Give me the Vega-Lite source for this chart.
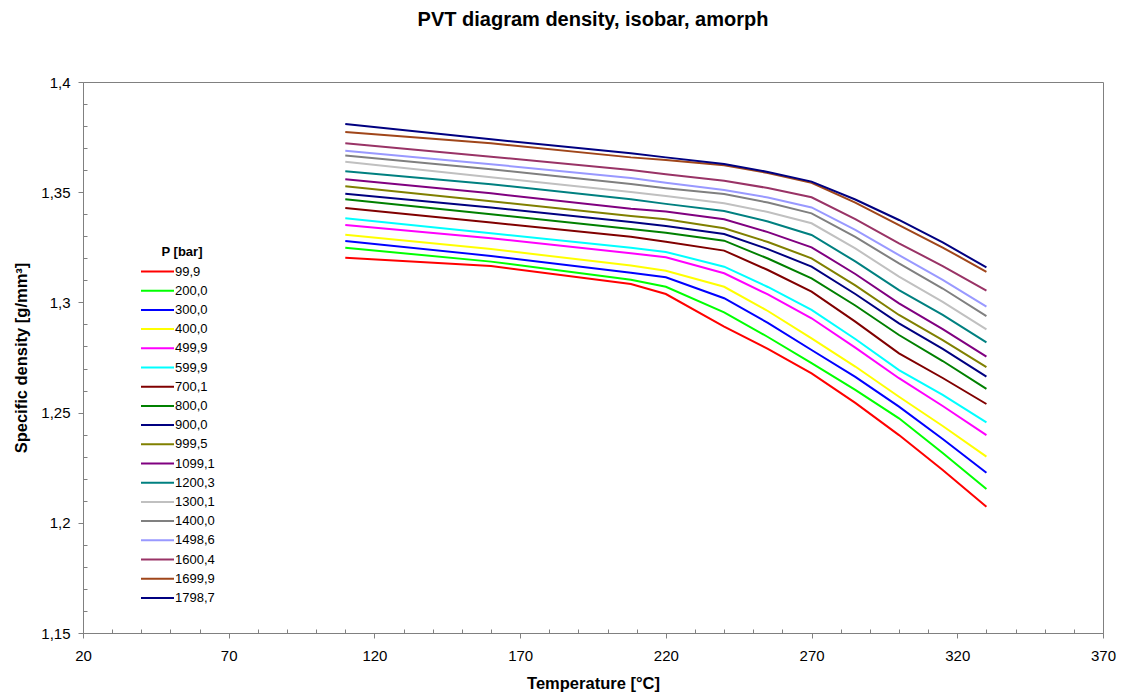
{
  "$schema": "https://vega.github.io/schema/vega-lite/v6.json",
  "width": 1020,
  "height": 551,
  "autosize": {"type": "none"},
  "padding": {"left": 83, "top": 82, "right": 19, "bottom": 63},
  "background": "white",
  "config": {
    "font": "Liberation Sans",
    "view": {"stroke": "#808080", "strokeWidth": 1}
  },
  "title": {
    "text": "PVT diagram density, isobar, amorph",
    "fontSize": 20,
    "fontWeight": "bold",
    "font": "Liberation Sans",
    "color": "#000000",
    "anchor": "middle",
    "offset": 45
  },
  "data": {
    "values": [
      {"P": "99,9", "T": 110, "d": 1.3203}, {"P": "99,9", "T": 160, "d": 1.3165}, {"P": "99,9", "T": 208, "d": 1.3083}, {"P": "99,9", "T": 220, "d": 1.3038}, {"P": "99,9", "T": 240, "d": 1.2890}, {"P": "99,9", "T": 255, "d": 1.2789}, {"P": "99,9", "T": 270, "d": 1.2678}, {"P": "99,9", "T": 285, "d": 1.2544}, {"P": "99,9", "T": 300, "d": 1.2398}, {"P": "99,9", "T": 315, "d": 1.2240}, {"P": "99,9", "T": 330, "d": 1.2073},
      {"P": "200,0", "T": 110, "d": 1.3248}, {"P": "200,0", "T": 160, "d": 1.3185}, {"P": "200,0", "T": 208, "d": 1.3103}, {"P": "200,0", "T": 220, "d": 1.3071}, {"P": "200,0", "T": 240, "d": 1.2955}, {"P": "200,0", "T": 255, "d": 1.2843}, {"P": "200,0", "T": 270, "d": 1.2724}, {"P": "200,0", "T": 285, "d": 1.2603}, {"P": "200,0", "T": 300, "d": 1.2474}, {"P": "200,0", "T": 315, "d": 1.2317}, {"P": "200,0", "T": 330, "d": 1.2153},
      {"P": "300,0", "T": 110, "d": 1.3279}, {"P": "300,0", "T": 160, "d": 1.3211}, {"P": "300,0", "T": 208, "d": 1.3135}, {"P": "300,0", "T": 220, "d": 1.3114}, {"P": "300,0", "T": 240, "d": 1.3019}, {"P": "300,0", "T": 255, "d": 1.2907}, {"P": "300,0", "T": 270, "d": 1.2784}, {"P": "300,0", "T": 285, "d": 1.2662}, {"P": "300,0", "T": 300, "d": 1.2527}, {"P": "300,0", "T": 315, "d": 1.2380}, {"P": "300,0", "T": 330, "d": 1.2227},
      {"P": "400,0", "T": 110, "d": 1.3307}, {"P": "400,0", "T": 160, "d": 1.3242}, {"P": "400,0", "T": 208, "d": 1.3167}, {"P": "400,0", "T": 220, "d": 1.3144}, {"P": "400,0", "T": 240, "d": 1.3071}, {"P": "400,0", "T": 255, "d": 1.2961}, {"P": "400,0", "T": 270, "d": 1.2837}, {"P": "400,0", "T": 285, "d": 1.2709}, {"P": "400,0", "T": 300, "d": 1.2572}, {"P": "400,0", "T": 315, "d": 1.2439}, {"P": "400,0", "T": 330, "d": 1.2300},
      {"P": "499,9", "T": 110, "d": 1.3351}, {"P": "499,9", "T": 160, "d": 1.3291}, {"P": "499,9", "T": 208, "d": 1.3223}, {"P": "499,9", "T": 220, "d": 1.3205}, {"P": "499,9", "T": 240, "d": 1.3132}, {"P": "499,9", "T": 255, "d": 1.3036}, {"P": "499,9", "T": 270, "d": 1.2928}, {"P": "499,9", "T": 285, "d": 1.2795}, {"P": "499,9", "T": 300, "d": 1.2656}, {"P": "499,9", "T": 315, "d": 1.2530}, {"P": "499,9", "T": 330, "d": 1.2398},
      {"P": "599,9", "T": 110, "d": 1.3382}, {"P": "599,9", "T": 160, "d": 1.3314}, {"P": "599,9", "T": 208, "d": 1.3248}, {"P": "599,9", "T": 220, "d": 1.3229}, {"P": "599,9", "T": 240, "d": 1.3162}, {"P": "599,9", "T": 255, "d": 1.3070}, {"P": "599,9", "T": 270, "d": 1.2966}, {"P": "599,9", "T": 285, "d": 1.2834}, {"P": "599,9", "T": 300, "d": 1.2693}, {"P": "599,9", "T": 315, "d": 1.2580}, {"P": "599,9", "T": 330, "d": 1.2456},
      {"P": "700,1", "T": 110, "d": 1.3428}, {"P": "700,1", "T": 160, "d": 1.3362}, {"P": "700,1", "T": 208, "d": 1.3298}, {"P": "700,1", "T": 220, "d": 1.3275}, {"P": "700,1", "T": 240, "d": 1.3235}, {"P": "700,1", "T": 255, "d": 1.3147}, {"P": "700,1", "T": 270, "d": 1.3049}, {"P": "700,1", "T": 285, "d": 1.2913}, {"P": "700,1", "T": 300, "d": 1.2769}, {"P": "700,1", "T": 315, "d": 1.2657}, {"P": "700,1", "T": 330, "d": 1.2539},
      {"P": "800,0", "T": 110, "d": 1.3468}, {"P": "800,0", "T": 160, "d": 1.3400}, {"P": "800,0", "T": 208, "d": 1.3333}, {"P": "800,0", "T": 220, "d": 1.3316}, {"P": "800,0", "T": 240, "d": 1.3280}, {"P": "800,0", "T": 255, "d": 1.3199}, {"P": "800,0", "T": 270, "d": 1.3109}, {"P": "800,0", "T": 285, "d": 1.2986}, {"P": "800,0", "T": 300, "d": 1.2852}, {"P": "800,0", "T": 315, "d": 1.2734}, {"P": "800,0", "T": 330, "d": 1.2608},
      {"P": "900,0", "T": 110, "d": 1.3493}, {"P": "900,0", "T": 160, "d": 1.3431}, {"P": "900,0", "T": 208, "d": 1.3365}, {"P": "900,0", "T": 220, "d": 1.3347}, {"P": "900,0", "T": 240, "d": 1.3310}, {"P": "900,0", "T": 255, "d": 1.3242}, {"P": "900,0", "T": 270, "d": 1.3162}, {"P": "900,0", "T": 285, "d": 1.3038}, {"P": "900,0", "T": 300, "d": 1.2905}, {"P": "900,0", "T": 315, "d": 1.2789}, {"P": "900,0", "T": 330, "d": 1.2663},
      {"P": "999,5", "T": 110, "d": 1.3527}, {"P": "999,5", "T": 160, "d": 1.3459}, {"P": "999,5", "T": 208, "d": 1.3392}, {"P": "999,5", "T": 220, "d": 1.3377}, {"P": "999,5", "T": 240, "d": 1.3336}, {"P": "999,5", "T": 255, "d": 1.3274}, {"P": "999,5", "T": 270, "d": 1.3200}, {"P": "999,5", "T": 285, "d": 1.3077}, {"P": "999,5", "T": 300, "d": 1.2943}, {"P": "999,5", "T": 315, "d": 1.2829}, {"P": "999,5", "T": 330, "d": 1.2706},
      {"P": "1099,1", "T": 110, "d": 1.3559}, {"P": "1099,1", "T": 160, "d": 1.3495}, {"P": "1099,1", "T": 208, "d": 1.3425}, {"P": "1099,1", "T": 220, "d": 1.3412}, {"P": "1099,1", "T": 240, "d": 1.3377}, {"P": "1099,1", "T": 255, "d": 1.3319}, {"P": "1099,1", "T": 270, "d": 1.3250}, {"P": "1099,1", "T": 285, "d": 1.3129}, {"P": "1099,1", "T": 300, "d": 1.2996}, {"P": "1099,1", "T": 315, "d": 1.2879}, {"P": "1099,1", "T": 330, "d": 1.2754},
      {"P": "1200,3", "T": 110, "d": 1.3595}, {"P": "1200,3", "T": 160, "d": 1.3536}, {"P": "1200,3", "T": 208, "d": 1.3468}, {"P": "1200,3", "T": 220, "d": 1.3447}, {"P": "1200,3", "T": 240, "d": 1.3415}, {"P": "1200,3", "T": 255, "d": 1.3367}, {"P": "1200,3", "T": 270, "d": 1.3306}, {"P": "1200,3", "T": 285, "d": 1.3186}, {"P": "1200,3", "T": 300, "d": 1.3056}, {"P": "1200,3", "T": 315, "d": 1.2943}, {"P": "1200,3", "T": 330, "d": 1.2819},
      {"P": "1300,1", "T": 110, "d": 1.3638}, {"P": "1300,1", "T": 160, "d": 1.3568}, {"P": "1300,1", "T": 208, "d": 1.3501}, {"P": "1300,1", "T": 220, "d": 1.3483}, {"P": "1300,1", "T": 240, "d": 1.3450}, {"P": "1300,1", "T": 255, "d": 1.3410}, {"P": "1300,1", "T": 270, "d": 1.3359}, {"P": "1300,1", "T": 285, "d": 1.3245}, {"P": "1300,1", "T": 300, "d": 1.3117}, {"P": "1300,1", "T": 315, "d": 1.3002}, {"P": "1300,1", "T": 330, "d": 1.2878},
      {"P": "1400,0", "T": 110, "d": 1.3667}, {"P": "1400,0", "T": 160, "d": 1.3604}, {"P": "1400,0", "T": 208, "d": 1.3537}, {"P": "1400,0", "T": 220, "d": 1.3518}, {"P": "1400,0", "T": 240, "d": 1.3492}, {"P": "1400,0", "T": 255, "d": 1.3453}, {"P": "1400,0", "T": 270, "d": 1.3404}, {"P": "1400,0", "T": 285, "d": 1.3297}, {"P": "1400,0", "T": 300, "d": 1.3177}, {"P": "1400,0", "T": 315, "d": 1.3063}, {"P": "1400,0", "T": 330, "d": 1.2938},
      {"P": "1498,6", "T": 110, "d": 1.3688}, {"P": "1498,6", "T": 160, "d": 1.3627}, {"P": "1498,6", "T": 208, "d": 1.3564}, {"P": "1498,6", "T": 220, "d": 1.3543}, {"P": "1498,6", "T": 240, "d": 1.3510}, {"P": "1498,6", "T": 255, "d": 1.3476}, {"P": "1498,6", "T": 270, "d": 1.3431}, {"P": "1498,6", "T": 285, "d": 1.3329}, {"P": "1498,6", "T": 300, "d": 1.3215}, {"P": "1498,6", "T": 315, "d": 1.3102}, {"P": "1498,6", "T": 330, "d": 1.2981},
      {"P": "1600,4", "T": 110, "d": 1.3722}, {"P": "1600,4", "T": 160, "d": 1.3661}, {"P": "1600,4", "T": 208, "d": 1.3601}, {"P": "1600,4", "T": 220, "d": 1.3581}, {"P": "1600,4", "T": 240, "d": 1.3552}, {"P": "1600,4", "T": 255, "d": 1.3519}, {"P": "1600,4", "T": 270, "d": 1.3477}, {"P": "1600,4", "T": 285, "d": 1.3378}, {"P": "1600,4", "T": 300, "d": 1.3268}, {"P": "1600,4", "T": 315, "d": 1.3165}, {"P": "1600,4", "T": 330, "d": 1.3053},
      {"P": "1699,9", "T": 110, "d": 1.3773}, {"P": "1699,9", "T": 160, "d": 1.3722}, {"P": "1699,9", "T": 208, "d": 1.3658}, {"P": "1699,9", "T": 220, "d": 1.3646}, {"P": "1699,9", "T": 240, "d": 1.3622}, {"P": "1699,9", "T": 255, "d": 1.3587}, {"P": "1699,9", "T": 270, "d": 1.3543}, {"P": "1699,9", "T": 285, "d": 1.3453}, {"P": "1699,9", "T": 300, "d": 1.3351}, {"P": "1699,9", "T": 315, "d": 1.3249}, {"P": "1699,9", "T": 330, "d": 1.3139},
      {"P": "1798,7", "T": 110, "d": 1.3809}, {"P": "1798,7", "T": 160, "d": 1.3740}, {"P": "1798,7", "T": 208, "d": 1.3677}, {"P": "1798,7", "T": 220, "d": 1.3658}, {"P": "1798,7", "T": 240, "d": 1.3628}, {"P": "1798,7", "T": 255, "d": 1.3592}, {"P": "1798,7", "T": 270, "d": 1.3548}, {"P": "1798,7", "T": 285, "d": 1.3467}, {"P": "1798,7", "T": 300, "d": 1.3374}, {"P": "1798,7", "T": 315, "d": 1.3272}, {"P": "1798,7", "T": 330, "d": 1.3159}
    ]
  },
  "mark": {"type": "line", "strokeWidth": 2, "clip": true},
  "encoding": {
    "x": {
      "field": "T",
      "type": "quantitative",
      "scale": {"domain": [20, 370], "nice": false, "zero": false},
      "axis": {
        "title": "Temperature [°C]",
        "titleFontSize": 16.5,
        "titleFontWeight": "bold",
        "titleColor": "#000000",
        "titlePadding": 12,
        "values": [20, 30, 40, 50, 60, 70, 80, 90, 100, 110, 120, 130, 140, 150, 160, 170, 180, 190, 200, 210, 220, 230, 240, 250, 260, 270, 280, 290, 300, 310, 320, 330, 340, 350, 360, 370],
        "labelExpr": "(datum.value - 20) % 50 == 0 ? datum.label : ''",
        "labelFontSize": 15,
        "labelColor": "#000000",
        "labelPadding": 10,
        "labelFlush": false,
        "labelOverlap": false,
        "grid": false,
        "domainColor": "#808080",
        "tickColor": "#808080",
        "tickSize": {"condition": {"test": "(datum.value - 20) % 50 == 0", "value": 5}, "value": -4}
      }
    },
    "y": {
      "field": "d",
      "type": "quantitative",
      "scale": {"domain": [1.15, 1.4], "nice": false, "zero": false},
      "axis": {
        "title": "Specific density [g/mm³]",
        "titleFontSize": 16.5,
        "titleFontWeight": "bold",
        "titleColor": "#000000",
        "titlePadding": 11,
        "values": [1.15, 1.16, 1.17, 1.18, 1.19, 1.2, 1.21, 1.22, 1.23, 1.24, 1.25, 1.26, 1.27, 1.28, 1.29, 1.3, 1.31, 1.32, 1.33, 1.34, 1.35, 1.36, 1.37, 1.38, 1.39, 1.4],
        "labelExpr": "round(datum.value * 100) % 5 == 0 ? replace(format(datum.value, '.2~f'), '.', ',') : ''",
        "labelFontSize": 15,
        "labelColor": "#000000",
        "labelPadding": 8,
        "labelFlush": false,
        "labelOverlap": false,
        "grid": false,
        "domainColor": "#808080",
        "tickColor": "#808080",
        "tickSize": {"condition": {"test": "round(datum.value * 100) % 5 == 0", "value": 5}, "value": -4}
      }
    },
    "color": {
      "field": "P",
      "type": "nominal",
      "sort": ["99,9", "200,0", "300,0", "400,0", "499,9", "599,9", "700,1", "800,0", "900,0", "999,5", "1099,1", "1200,3", "1300,1", "1400,0", "1498,6", "1600,4", "1699,9", "1798,7"],
      "scale": {
        "domain": ["99,9", "200,0", "300,0", "400,0", "499,9", "599,9", "700,1", "800,0", "900,0", "999,5", "1099,1", "1200,3", "1300,1", "1400,0", "1498,6", "1600,4", "1699,9", "1798,7"],
        "range": ["#FF0000", "#00FF00", "#0000FF", "#FFFF00", "#FF00FF", "#00FFFF", "#800000", "#008000", "#000080", "#808000", "#800080", "#008080", "#C0C0C0", "#808080", "#9999FF", "#993366", "#A0461A", "#000080"]
      },
      "legend": {
        "title": "P [bar]",
        "titleFontSize": 13,
        "titleFontWeight": "bold",
        "titleColor": "#000000",
        "titleAnchor": "middle",
        "titlePadding": 4,
        "orient": "none",
        "legendX": 66,
        "legendY": 164,
        "symbolType": "M-2.2,0H2.2",
        "symbolStrokeWidth": 2,
        "symbolSize": 225,
        "labelFontSize": 13,
        "labelColor": "#000000",
        "labelOffset": 9,
        "rowPadding": 3.2,
        "padding": 0
      }
    }
  }
}
